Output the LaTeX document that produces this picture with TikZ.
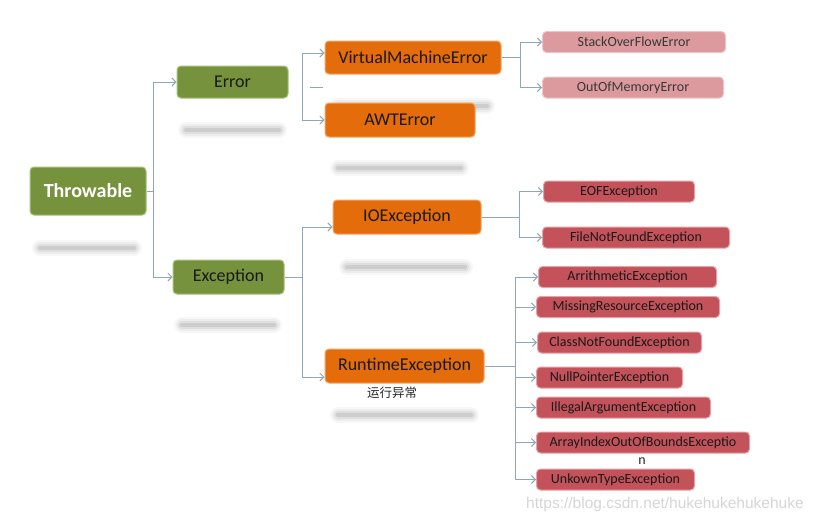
\documentclass[tikz,border=0pt]{standalone}
\usepackage{fontspec}
\setmainfont{Carlito}
\newfontfamily\cjk{Noto Sans CJK SC}
\newfontfamily\urlfont{Liberation Sans}
\usetikzlibrary{arrows.meta,calc}
\definecolor{tgreen}{HTML}{76923C}
\definecolor{tgreenrim}{HTML}{A6C27A}
\definecolor{torange}{HTML}{E46C0A}
\definecolor{torangerim}{HTML}{F3A666}
\definecolor{tred}{HTML}{C3525A}
\definecolor{tredrim}{HTML}{E7A0A4}
\definecolor{tpink}{HTML}{DC9A9F}
\definecolor{tpinkrim}{HTML}{EEC6C9}
\definecolor{tlink}{HTML}{8FA5B8}
\tikzset{
  box/.style={rounded corners=4pt, inner sep=0pt, line width=1pt, text=black!90},
  greenbox/.style={box, fill=tgreen, draw=tgreenrim, font=\fontsize{18}{20}\selectfont},
  orangebox/.style={box, fill=torange, draw=torangerim, minimum height=34pt, font=\fontsize{18}{20}\selectfont},
  leafbox/.style={box, anchor=west, minimum height=21pt, font=\fontsize{14}{16}\selectfont},
  redbox/.style={leafbox, fill=tred, draw=tredrim},
  pinkbox/.style={leafbox, fill=tpink, draw=tpinkrim, text=black!78},
  link/.style={draw=tlink, line width=0.9pt},
  arr/.style={link, -{Straight Barb[length=4pt,width=8pt]}},
}
% soft grey bar under a box
\newcommand\blurbar[3]{%
  \foreach \lw/\op in {16/0.03,12/0.04,8/0.06,4/0.08}{%
    \draw[line cap=round, line width=\lw pt, black, opacity=\op] (#1,#3) -- (#2,#3);}}

\begin{document}
\begin{tikzpicture}[x=1pt, y=-1pt]
    \useasboundingbox [fill=white] (0,0) rectangle (825,522);

    % grey bars below the boxes
    \blurbar{40}{134}{248}
    \blurbar{186}{279}{130}
    \blurbar{182}{274}{325}
    \blurbar{338}{487}{106}
    \blurbar{338}{461}{168}
    \blurbar{347}{465}{267}
    \blurbar{338}{471}{415}

    % draw figure
    \node [greenbox, minimum width=116pt, minimum height=48pt, text=white,
           font=\fontsize{20}{22}\selectfont\bfseries] (thr) at (88,191) {Throwable};
    \node [greenbox, minimum width=111pt, minimum height=32pt] (err) at (232.5,82) {Error};
    \node [greenbox, minimum width=111pt, minimum height=34pt] (exc) at (228.5,277) {Exception};

    \node [orangebox, minimum width=176pt, minimum height=33pt] (vme) at (413,57.5) {VirtualMachineError};
    \node [orangebox, minimum width=150pt] (awt) at (400,120) {AWTError};
    \node [orangebox, minimum width=148pt] (ioe) at (407,217) {IOException};
    \node [orangebox, minimum width=159pt] (rte) at (404.5,366) {RuntimeException};

    \node [pinkbox, minimum width=183pt] (sof) at (542,42) {StackOverFlowError};
    \node [pinkbox, minimum width=181pt] (oom) at (542,87.5) {OutOfMemoryError};

    \node [redbox, minimum width=151pt] (eof) at (543,191.5) {EOFException};
    \node [redbox, minimum width=187pt] (fnf) at (542,237.5) {FileNotFoundException};

    \node [redbox, minimum width=178pt] (ari) at (538,277) {ArrithmeticException};
    \node [redbox, minimum width=183pt] (mre) at (536,307) {MissingResourceException};
    \node [redbox, minimum width=164pt] (cnf) at (537,342.5) {ClassNotFoundException};
    \node [redbox, minimum width=146pt] (npe) at (536,377.5) {NullPointerException};
    \node [redbox, minimum width=174pt] (iae) at (536,407.5) {IllegalArgumentException};
    \node [redbox, minimum width=213pt] (aio) at (536,442.5) {ArrayIndexOutOfBoundsExceptio};
    \node [redbox, minimum width=158pt] (ute) at (536,479.5) {UnkownTypeException};

    % connectors
    \draw [link] (thr.east) -- ++(7,0) coordinate (tb);
    \draw [arr] (tb) |- (err.west);
    \draw [arr] (tb) |- (exc.west);

    \coordinate (eb) at (302,53);
    \draw [arr] (eb) -- (eb -| vme.west);
    \draw [arr] (eb) |- (awt.west);
    \coordinate (ed) at (310,87);
    \draw [link] (ed) -- ++(13,0);

    \draw [link] (exc.east) -- ++(18,0) coordinate (xb);
    \draw [arr] (xb) |- ([yshift=-10pt]ioe.west);
    \draw [arr] (xb) |- ([yshift=-11pt]rte.west);

    \draw [link] (vme.east) -- ++(19,0) coordinate (vb);
    \draw [arr] (vb) |- (sof.west);
    \draw [arr] (vb) |- (oom.west);

    \draw [link] (ioe.east) -- ++(38,0) coordinate (ib);
    \draw [arr] (ib) |- (eof.west);
    \draw [arr] (ib) |- (fnf.west);

    \draw [link] (rte.east) -- ++(31,0) coordinate (rb);
    \foreach \leaf in {ari,mre,cnf,npe,iae,aio,ute}
      \draw [arr] (rb) |- (\leaf.west);

    % add labels
    \node [font=\cjk\fontsize{12.5}{14}\selectfont, text=black!85] (rtcn) at (392,393) {运行异常};
    \node [font=\fontsize{14}{16}\selectfont, text=black!85] (aion) at (642,461) {n};
    \node [anchor=west, inner sep=0pt, font=\urlfont\fontsize{15.5}{17}\selectfont, text=black!16] (url) at (526,504) {https://blog.csdn.net/hukehukehukehuke};
\end{tikzpicture}
\end{document}
